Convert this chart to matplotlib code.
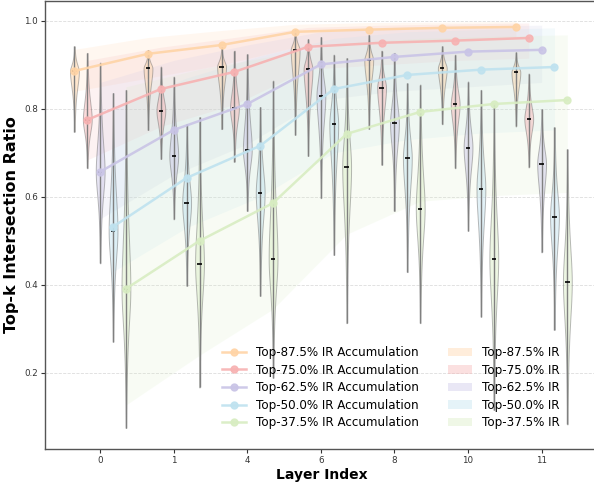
import matplotlib
matplotlib.use('Agg')
import matplotlib.pyplot as plt
from matplotlib.patches import Patch
from matplotlib.lines import Line2D
import numpy as np

layers = ['0', '1', '4', '6', '8', '10', '11']
levels = ['87.5', '75.0', '62.5', '50.0', '37.5']
colors = ['#FFD4A6', '#F7B2B2', '#C9C4E6', '#BFE2EF', '#D8EDC2']

# accumulation curves (one list per level, one value per layer)
acc_875 = [0.886, 0.925, 0.945, 0.975, 0.980, 0.984, 0.986]
acc_750 = [0.775, 0.845, 0.884, 0.941, 0.950, 0.955, 0.961]
acc_625 = [0.657, 0.752, 0.811, 0.901, 0.918, 0.930, 0.934]
acc_500 = [0.532, 0.643, 0.716, 0.845, 0.877, 0.889, 0.895]
acc_375 = [0.391, 0.500, 0.586, 0.743, 0.793, 0.811, 0.820]

# IR bands
band_lo_875 = [0.840, 0.870, 0.900, 0.940, 0.950, 0.955, 0.960]
band_hi_875 = [0.935, 0.962, 0.978, 0.992, 0.996, 0.997, 0.998]
band_lo_750 = [0.684, 0.760, 0.810, 0.890, 0.900, 0.910, 0.915]
band_hi_750 = [0.910, 0.940, 0.962, 0.985, 0.990, 0.993, 0.995]
band_lo_625 = [0.550, 0.650, 0.720, 0.820, 0.840, 0.850, 0.860]
band_hi_625 = [0.860, 0.910, 0.945, 0.975, 0.985, 0.988, 0.990]
band_lo_500 = [0.430, 0.530, 0.600, 0.700, 0.730, 0.745, 0.752]
band_hi_500 = [0.800, 0.870, 0.920, 0.960, 0.975, 0.980, 0.984]
band_lo_375 = [0.127, 0.240, 0.345, 0.515, 0.590, 0.603, 0.610]
band_hi_375 = [0.850, 0.890, 0.920, 0.950, 0.960, 0.965, 0.968]

# violin summaries per level: min, max, median per layer
v_min_875 = [0.748, 0.752, 0.754, 0.741, 0.755, 0.765, 0.760]
v_max_875 = [0.942, 0.933, 0.940, 0.980, 0.968, 0.942, 0.928]
v_med_875 = [0.885, 0.892, 0.896, 0.934, 0.910, 0.892, 0.883]
v_min_750 = [0.665, 0.686, 0.680, 0.693, 0.673, 0.665, 0.667]
v_max_750 = [0.927, 0.896, 0.932, 0.958, 0.932, 0.923, 0.880]
v_med_750 = [0.775, 0.796, 0.801, 0.890, 0.848, 0.810, 0.777]
v_min_625 = [0.449, 0.549, 0.568, 0.597, 0.568, 0.523, 0.474]
v_max_625 = [0.905, 0.873, 0.924, 0.963, 0.927, 0.862, 0.799]
v_med_625 = [0.657, 0.693, 0.707, 0.830, 0.767, 0.712, 0.675]
v_min_500 = [0.271, 0.398, 0.375, 0.468, 0.429, 0.328, 0.298]
v_max_500 = [0.836, 0.765, 0.804, 0.923, 0.858, 0.843, 0.758]
v_med_500 = [0.523, 0.586, 0.609, 0.765, 0.688, 0.617, 0.555]
v_min_375 = [0.075, 0.167, 0.189, 0.313, 0.313, 0.116, 0.083]
v_max_375 = [0.843, 0.781, 0.864, 0.915, 0.855, 0.813, 0.708]
v_med_375 = [0.391, 0.448, 0.459, 0.667, 0.573, 0.459, 0.406]

acc = [acc_875, acc_750, acc_625, acc_500, acc_375]
band_lo = [band_lo_875, band_lo_750, band_lo_625, band_lo_500, band_lo_375]
band_hi = [band_hi_875, band_hi_750, band_hi_625, band_hi_500, band_hi_375]
v_min = [v_min_875, v_min_750, v_min_625, v_min_500, v_min_375]
v_max = [v_max_875, v_max_750, v_max_625, v_max_500, v_max_375]
v_med = [v_med_875, v_med_750, v_med_625, v_med_500, v_med_375]

offsets = [-0.35, -0.175, 0.0, 0.175, 0.35]
groups = np.arange(len(layers))


def shape(lo, hi, med):
    # peaked, long-tailed outline for one violin
    y = np.linspace(lo, hi, 200)
    b = np.where(y >= med, (hi - med) / 3.8, (med - lo) / 3.8)
    d = (y - med) / b
    return y, np.exp(1 - np.sqrt(1 + d ** 2))


fig = plt.figure(figsize=(5.94, 4.84), dpi=100)
ax = fig.add_axes([45 / 594, 35 / 484, 554 / 594, 448 / 484])

for i in range(len(levels)):
    xs = groups + offsets[i]
    ax.fill_between(xs, band_lo[i], band_hi[i], color=colors[i], alpha=0.17,
                    linewidth=0, zorder=1)

for i in range(len(levels)):
    xs = groups + offsets[i]
    stats = []
    for j in range(len(layers)):
        y, dens = shape(v_min[i][j], v_max[i][j], v_med[i][j])
        stats.append(dict(coords=y, vals=dens, mean=v_med[i][j],
                          median=v_med[i][j], min=v_min[i][j], max=v_max[i][j]))
    parts = ax.violin(stats, positions=xs, widths=0.12, showmeans=False,
                      showextrema=True, showmedians=True)
    for body in parts['bodies']:
        body.set_facecolor(colors[i])
        body.set_edgecolor('#666666')
        body.set_linewidth(0.7)
        body.set_alpha(0.45)
        body.set_zorder(2)
    parts['cbars'].set_color('#808080')
    parts['cbars'].set_linewidth(1.0)
    parts['cbars'].set_zorder(2)
    parts['cmins'].set_visible(False)
    parts['cmaxes'].set_visible(False)
    parts['cmedians'].set_color('black')
    parts['cmedians'].set_linewidth(1.2)
    parts['cmedians'].set_zorder(3)

for i in range(len(levels)):
    xs = groups + offsets[i]
    ax.plot(xs, acc[i], '-o', color=colors[i], lw=1.8, ms=5, alpha=0.9, zorder=4)

ax.set_xlim(-0.75, 6.78)
ax.set_ylim(0.027, 1.045)
ax.set_xticks(groups)
ax.set_xticklabels(layers)
ax.set_yticks([0.2, 0.4, 0.6, 0.8, 1.0])
ax.set_yticklabels(['0.2', '0.4', '0.6', '0.8', '1.0'])
ax.tick_params(labelsize=6.3, colors='#333333', length=3, width=0.8, pad=2)
ax.grid(axis='y', linestyle='--', color='#dddddd', linewidth=0.6, zorder=0)
ax.set_axisbelow(True)
for s in ax.spines.values():
    s.set_color('#555555')
    s.set_linewidth(1.0)

ax.set_xlabel('Layer Index', fontsize=10, fontweight='bold', labelpad=2)
ax.set_ylabel('Top-k Intersection Ratio', fontsize=11.5, fontweight='bold', labelpad=4)

handles = [Line2D([0], [0], color=c, marker='o', lw=1.8, ms=5, alpha=0.9) for c in colors]
handles += [Patch(facecolor=c, alpha=0.4, edgecolor='none') for c in colors]
labels = ['Top-%s%% IR Accumulation' % l for l in levels] + ['Top-%s%% IR' % l for l in levels]
ax.legend(handles, labels, ncol=2, loc='lower right', frameon=False, fontsize=8.6,
          bbox_to_anchor=(0.948, 0.02), columnspacing=2.5, labelspacing=0.38)

fig.savefig('out.png', dpi=100)
